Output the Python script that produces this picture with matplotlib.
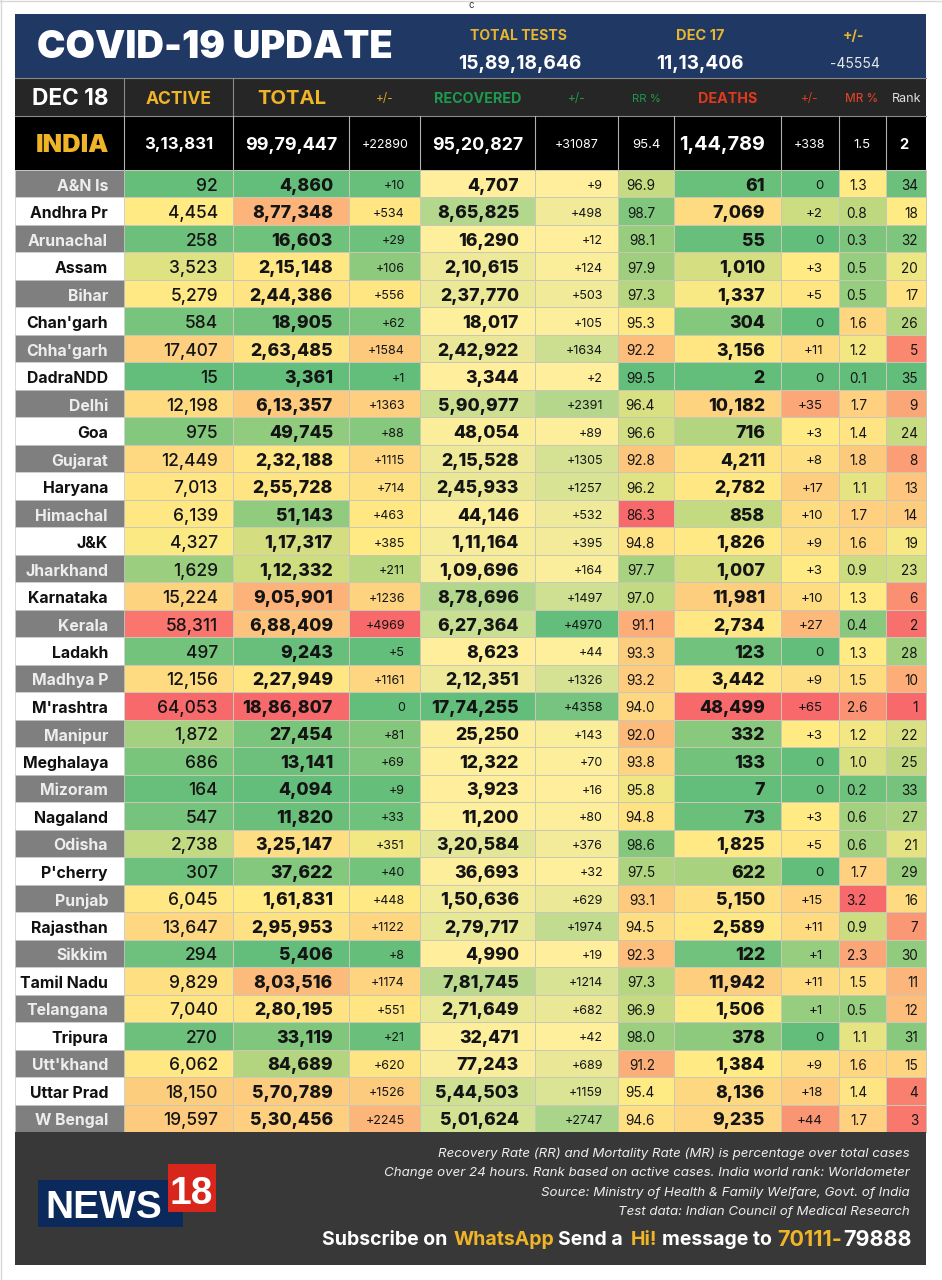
import numpy as np
import matplotlib
matplotlib.use("Agg")
import matplotlib.pyplot as plt
from matplotlib.colors import LinearSegmentedColormap, TwoSlopeNorm, Normalize
from matplotlib.patches import Rectangle

states = ["A&N Is","Andhra Pr","Arunachal","Assam","Bihar","Chan'garh","Chha'garh","DadraNDD","Delhi","Goa","Gujarat","Haryana","Himachal","J&K","Jharkhand","Karnataka","Kerala","Ladakh","Madhya P","M'rashtra","Manipur","Meghalaya","Mizoram","Nagaland","Odisha","P'cherry","Punjab","Rajasthan","Sikkim","Tamil Nadu","Telangana","Tripura","Utt'khand","Uttar Prad","W Bengal"]
active = [92,4454,258,3523,5279,584,17407,15,12198,975,12449,7013,6139,4327,1629,15224,58311,497,12156,64053,1872,686,164,547,2738,307,6045,13647,294,9829,7040,270,6062,18150,19597]
total = [4860,877348,16603,215148,244386,18905,263485,3361,613357,49745,232188,255728,51143,117317,112332,905901,688409,9243,227949,1886807,27454,13141,4094,11820,325147,37622,161831,295953,5406,803516,280195,33119,84689,570789,530456]
total_delta = [10,534,29,106,556,62,1584,1,1363,88,1115,714,463,385,211,1236,4969,5,1161,0,81,69,9,33,351,40,448,1122,8,1174,551,21,620,1526,2245]
recovered = [4707,865825,16290,210615,237770,18017,242922,3344,590977,48054,215528,245933,44146,111164,109696,878696,627364,8623,212351,1774255,25250,12322,3923,11200,320584,36693,150636,279717,4990,781745,271649,32471,77243,544503,501624]
recovered_delta = [9,498,12,124,503,105,1634,2,2391,89,1305,1257,532,395,164,1497,4970,44,1326,4358,143,70,16,80,376,32,629,1974,19,1214,682,42,689,1159,2747]
rr = [96.9,98.7,98.1,97.9,97.3,95.3,92.2,99.5,96.4,96.6,92.8,96.2,86.3,94.8,97.7,97.0,91.1,93.3,93.2,94.0,92.0,93.8,95.8,94.8,98.6,97.5,93.1,94.5,92.3,97.3,96.9,98.0,91.2,95.4,94.6]
deaths = [61,7069,55,1010,1337,304,3156,2,10182,716,4211,2782,858,1826,1007,11981,2734,123,3442,48499,332,133,7,73,1825,622,5150,2589,122,11942,1506,378,1384,8136,9235]
deaths_delta = [0,2,0,3,5,0,11,0,35,3,8,17,10,9,3,10,27,0,9,65,3,0,0,3,5,0,15,11,1,11,1,0,9,18,44]
mr = [1.3,0.8,0.3,0.5,0.5,1.6,1.2,0.1,1.7,1.4,1.8,1.1,1.7,1.6,0.9,1.3,0.4,1.3,1.5,2.6,1.2,1.0,0.2,0.6,0.6,1.7,3.2,0.9,2.3,1.5,0.5,1.1,1.6,1.4,1.7]
rank = [34,18,32,20,17,26,5,35,9,24,8,13,14,19,23,6,2,28,10,1,22,25,33,27,21,29,16,7,30,11,12,31,15,4,3]

india = ["INDIA","3,13,831","99,79,447","+22890","95,20,827","+31087","95.4","1,44,789","+338","1.5","2"]
headers = ["DEC 18","ACTIVE","TOTAL","+/-","RECOVERED","+/-","RR %","DEATHS","+/-","MR %","Rank"]
banner_labels = ["TOTAL TESTS","DEC 17","+/-"]
banner_values = ["15,89,18,646","11,13,406","-45554"]
notes = ["Recovery Rate (RR) and Mortality Rate (MR) is percentage over total cases",
         "Change over 24 hours. Rank based on active cases. India world rank: Worldometer",
         "Source: Ministry of Health & Family Welfare, Govt. of India",
         "Test data: Indian Council of Medical Research"]

def indian(n):
    s = str(n)
    if len(s) <= 3:
        return s
    head, tail = s[:-3], s[-3:]
    parts = []
    while len(head) > 2:
        parts.insert(0, head[-2:])
        head = head[:-2]
    parts.insert(0, head)
    return ",".join(parts + [tail])

def plus(n):
    return "+%d" % n if n else "0"

plt.rcParams["font.family"] = ["Inter", "DejaVu Sans"]
fig = plt.figure(figsize=(9.42, 12.8), dpi=100, facecolor="white")
ax = fig.add_axes([0, 0, 1, 1])
ax.set_xlim(0, 942)
ax.set_ylim(1280, 0)
ax.axis("off")

edges = np.array([15, 124, 233, 349, 420, 535, 618, 674, 781, 839, 886, 926])
row_top, row_bot = 170.0, 1132.0
nrow = len(states)
yedges = np.linspace(row_top, row_bot, nrow + 1)
ymid = (yedges[:-1] + yedges[1:]) / 2
OFF = 2.5  # text centre sits above the nominal y in this font

GREEN, YEL, RED, PALE = "#63BE7B", "#FFEB84", "#F8696B", "#FFEF9C"
gyr = LinearSegmentedColormap.from_list("gyr", [GREEN, YEL, RED])
ryg = LinearSegmentedColormap.from_list("ryg", [RED, YEL, GREEN])
yg = LinearSegmentedColormap.from_list("yg", [PALE, GREEN])

def tri(v):
    return TwoSlopeNorm(vcenter=float(np.median(v)), vmin=min(v), vmax=max(v))
def tri_low(v):
    return TwoSlopeNorm(vcenter=float(np.percentile(v, 40)), vmin=min(v), vmax=max(v))
def lin(v):
    return Normalize(min(v), max(v))

columns = [
    (active, gyr, tri, [indian(v) for v in active], 12.5, "medium", 15),
    (total, gyr, tri, [indian(v) for v in total], 12.7, "heavy", 16),
    (total_delta, gyr, tri, [plus(v) for v in total_delta], 9, "normal", 15),
    (recovered, yg, lin, [indian(v) for v in recovered], 12.7, "heavy", 16),
    (recovered_delta, yg, lin, [plus(v) for v in recovered_delta], 9, "normal", 15),
    (rr, ryg, tri, ["%.1f" % v for v in rr], 9.8, "normal", 19),
    (deaths, gyr, tri, [indian(v) for v in deaths], 12.7, "heavy", 16),
    (deaths_delta, gyr, tri_low, [plus(v) for v in deaths_delta], 9.5, "normal", 16),
    (mr, gyr, tri, ["%.1f" % v for v in mr], 9.8, "normal", 19),
    (rank, ryg, tri, [str(v) for v in rank], 9.8, "normal", 8),
]
for i, (vals, cmap, nf, labels, fs, fw, pad) in enumerate(columns):
    x0, x1 = edges[i + 1], edges[i + 2]
    arr = np.array(vals, dtype=float).reshape(-1, 1)
    ax.pcolormesh([x0, x1], yedges, arr, cmap=cmap, norm=nf(vals), edgecolors="#C8C8B4", linewidth=0.7)
    for y, t in zip(ymid, labels):
        ax.text(x1 - pad, y + OFF, t, ha="right", va="center", fontsize=fs, fontweight=fw, color="#141414")

# state names
for k, (name, y) in enumerate(zip(states, ymid)):
    grey = k % 2 == 0
    ax.add_patch(Rectangle((edges[0], yedges[k]), edges[1] - edges[0], yedges[k + 1] - yedges[k],
                           fc="#7F7F7F" if grey else "white", ec="#C8C8C8", lw=0.5))
    ax.text(108, y + OFF, name, ha="right", va="center", fontsize=11.4, fontweight="bold",
            color="#EDEDED" if grey else "#111111")

# banner
ax.add_patch(Rectangle((15, 14), 911, 64, fc="#1F3864", ec="none"))
ax.text(37, 58.5, "COVID-19 UPDATE", ha="left", va="baseline", fontsize=27.5, fontweight="black", color="white")
for x, t, s in zip([519, 700, 854], banner_labels, [10.1, 10.5, 10]):
    ax.text(x, 34 + 2, t, ha="center", va="center", fontsize=s, fontweight="bold", color="#E9B52C")
ax.text(520, 62 + 2, banner_values[0], ha="center", va="center", fontsize=13.8, fontweight="bold", color="white")
ax.text(700, 62 + 2, banner_values[1], ha="center", va="center", fontsize=13.7, fontweight="bold", color="white")
ax.text(855, 62 + 2, banner_values[2], ha="center", va="center", fontsize=10, color="#E8E8E8")

# header row
hy0, hy1, iy1 = 78, 116, 170
ax.add_patch(Rectangle((15, hy0), 911, hy1 - hy0, fc="#262626", ec="none"))
ax.add_patch(Rectangle((15, hy1), 911, iy1 - hy1, fc="black", ec="none"))
hx = [70, 179, 291.5, 385, 478, 577, 646, 728, 810, 862, 907]
hcol = ["white", "#F0B429", "#F0B429", "#D9A520", "#1E9A4E", "#1E9A4E", "#1E9A4E", "#E03A1E", "#E03A1E", "#D8422A", "#E0E0E0"]
hsz = [16.3, 12.6, 14.6, 8.5, 10.3, 8.5, 8.2, 10.3, 8.5, 8.4, 9]
hwt = ["bold", "bold", "bold", "normal", "bold", "normal", "normal", "bold", "normal", "medium", "normal"]
for x, t, c, s, w in zip(hx, headers, hcol, hsz, hwt):
    ax.text(x, 97 + 2, t, ha="center", va="center", fontsize=s, fontweight=w, color=c)
for x in [124, 233]:
    ax.plot([x, x], [hy0, hy1], color="#8A8A8A", lw=0.8)
ax.plot([15, 926], [hy0, hy0], color="#8A8A8A", lw=0.8)
ax.plot([15, 926], [hy1, hy1], color="#8A8A8A", lw=0.8)

# India row
imid = 143 + 2
ix = [72.5, 179, 291.5, 385, 477.5, 577, 646, 722, 810, 862, 904]
isz = [18.3, 12, 13, 9, 12.8, 9, 9.5, 14.3, 9, 9.5, 10.5]
iwt = ["black", "bold", "bold", "normal", "bold", "normal", "normal", "bold", "normal", "normal", "bold"]
for j, (x, t, s, w) in enumerate(zip(ix, india, isz, iwt)):
    ax.text(x, imid, t, ha="center", va="center", fontsize=s, fontweight=w,
            color="#F0B429" if j == 0 else "white")
for x in edges[1:-1]:
    ax.plot([x, x], [hy1, iy1], color="#B0B0B0", lw=0.8)

# footer
ax.add_patch(Rectangle((15, 1132), 911, 133, fc="#383838", ec="none"))
for y, t in zip([1154, 1173, 1193, 1212], notes):
    ax.text(910, y, t, ha="right", va="center", fontsize=9.6, style="italic", color="#EDEDED")

# NEWS18 logo
logo_fam = ["Liberation Sans", "DejaVu Sans"]
ax.add_patch(Rectangle((38, 1180), 145, 47, fc="#0B2A5B", ec="none"))
ax.add_patch(Rectangle((168, 1164), 48, 48, fc="#D8261C", ec="none"))
ax.text(45, 1218.5, "NEWS", ha="left", va="baseline", fontsize=28, fontweight="bold", color="white", family=logo_fam)
ax.text(191, 1204, "18", ha="center", va="baseline", fontsize=28, fontweight="bold", color="white",
        family=["Liberation Sans Narrow", "Liberation Sans"])

# subscribe line, built right to left
parts = [("79888", "white", 15.5, 1), ("70111-", "#F0B429", 15.5, 6), ("message to", "white", 14, 4), ("Hi!", "#F0B429", 14, 8),
         ("Send a", "white", 14, 4), ("WhatsApp", "#F0B429", 14, 6), ("Subscribe on", "white", 14, 0)]
fig.canvas.draw()
r = fig.canvas.get_renderer()
xr = 912
for t, c, s, gap in parts:
    tx = ax.text(xr, 1240, t, ha="right", va="center", fontsize=s, fontweight="bold", color=c)
    xr -= tx.get_window_extent(r).width + gap

ax.text(471, 5, "c", ha="center", va="center", fontsize=7, color="#333333")
ax.plot([1, 1], [0, 1280], color="#D8D8D8", lw=1)
ax.plot([0, 942], [1, 1], color="#D8D8D8", lw=1)

fig.savefig("out.png", dpi=100)
